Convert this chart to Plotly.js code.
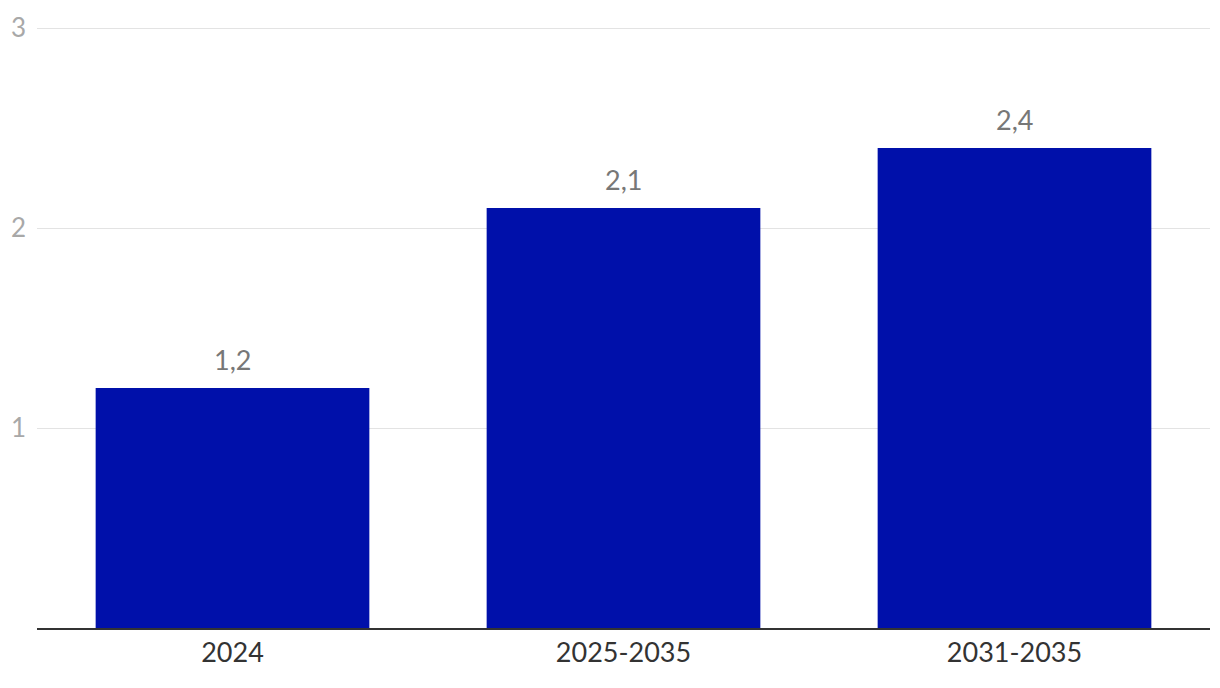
<!DOCTYPE html>
<html><head><meta charset="utf-8">
<script src="https://cdn.plot.ly/plotly-3.0.1.min.js"></script>
<style>body{margin:0;background:#fff}#c{width:1220px;height:688px}</style>
</head><body><div id="c"></div>
<script>
const categories = ["2024", "2025-2035", "2031-2035"];
const values = [1.2, 2.1, 2.4];
const yTicks = [1, 2, 3];

const annotations = categories.map((c, i) => ({
  x: i, y: values[i], xref: 'x', yref: 'y',
  text: values[i].toFixed(1).replace('.', ','),
  showarrow: false, yanchor: 'bottom', yshift: 10,
  font: {family: 'Lato', size: 27, color: '#777777'}
}));

Plotly.newPlot('c', [{
  type: 'bar', x: categories, y: values,
  marker: {color: '#0010AA'}, hoverinfo: 'none'
}], {
  width: 1220, height: 688,
  margin: {l: 37, r: 10, t: 26, b: 60},
  paper_bgcolor: '#fff', plot_bgcolor: '#fff',
  bargap: 0.3, showlegend: false,
  separators: ',.',
  font: {family: 'Lato'},
  xaxis: {type: 'category', range: [-0.5, categories.length - 0.5], showgrid: false, showline: true,
    linecolor: '#333', linewidth: 2,
    tickfont: {family: 'Lato', size: 27, color: '#333'}, ticks: '', fixedrange: true},
  yaxis: {range: [0, 3.01], tickvals: yTicks, showgrid: true, gridcolor: '#e3e3e3', gridwidth: 1,
    zeroline: false, showline: false, ticklabelstandoff: 10,
    tickfont: {family: 'Lato', size: 26, color: '#a8a8a8'}, fixedrange: true},
  annotations: annotations
}, {displayModeBar: false, staticPlot: true});
</script></body></html>
